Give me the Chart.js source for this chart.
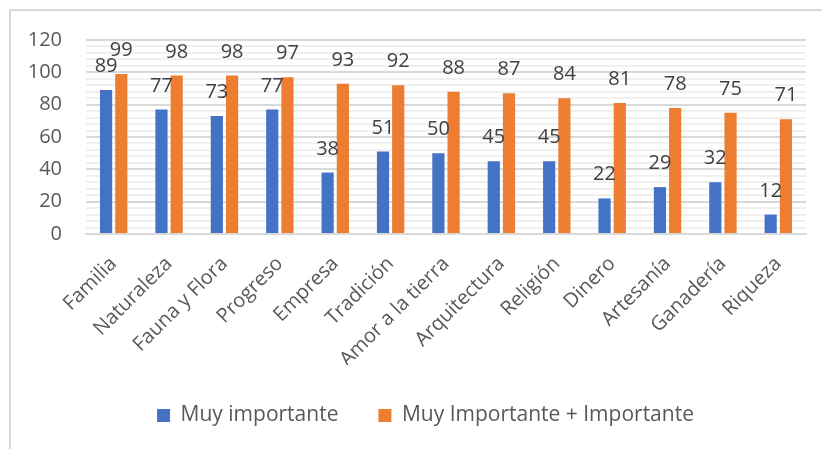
<!DOCTYPE html>
<html>
<head>
<meta charset="utf-8">
<script src="https://cdn.jsdelivr.net/npm/chart.js@4/dist/chart.umd.min.js"></script>
<style>
    html, body { margin: 0; padding: 0; background: #fff; }
    #wrap { position: relative; width: 822px; height: 449px; overflow: hidden; }
    #frame { position: absolute; left: 9px; top: 9px; width: 840px; height: 470px; border: 2px solid #d9d9d9; box-sizing: border-box; }
    #chart { position: absolute; left: 0; top: 0; }
</style>
</head>
<body>
<div id="wrap">
    <div id="frame"></div>
    <canvas id="chart" width="822" height="449"></canvas>
</div>
<script>
// categories and series
const categories = ['Familia', 'Naturaleza', 'Fauna y Flora', 'Progreso', 'Empresa', 'Tradición',
    'Amor a la tierra', 'Arquitectura', 'Religión', 'Dinero', 'Artesanía', 'Ganadería', 'Riqueza'];
const muyImportante = [89, 77, 73, 77, 38, 51, 50, 45, 45, 22, 29, 32, 12];
const muyMasImportante = [99, 98, 98, 97, 93, 92, 88, 87, 84, 81, 78, 75, 71];
const seriesNames = ['Muy importante', 'Muy Importante + Importante'];
const yMax = 120;
const yMajorStep = 20;
const yMinorStep = 4;

const FONT = "'Open Sans', sans-serif";

// value labels over each bar (no datalabels plugin available)
const barLabels = {
    id: 'barLabels',
    afterDatasetsDraw(chart) {
        const ctx = chart.ctx;
        ctx.save();
        ctx.font = '20px ' + FONT;
        ctx.fillStyle = '#404040';
        ctx.textAlign = 'center';
        ctx.textBaseline = 'alphabetic';
        chart.data.datasets.forEach(function (ds, i) {
            chart.getDatasetMeta(i).data.forEach(function (bar, j) {
                ctx.fillText(String(ds.data[j]), bar.x, bar.y - 18);
            });
        });
        ctx.restore();
    }
};

// legend in the reference sits a bit right of the canvas centre
const legendShift = {
    id: 'legendShift',
    beforeDraw(chart) {
        if (chart.legend) chart.legend.left = 45;
    }
};

new Chart(document.getElementById('chart'), {
    type: 'bar',
    data: {
        labels: categories,
        datasets: [
            { label: seriesNames[0], data: muyImportante, backgroundColor: '#4472c4' },
            { label: seriesNames[1], data: muyMasImportante, backgroundColor: '#ed7d31' }
        ]
    },
    options: {
        responsive: false,
        animation: false,
        categoryPercentage: 0.55,
        barPercentage: 0.8,
        layout: { padding: { left: 0, right: 16, top: 40, bottom: 13 } },
        plugins: {
            legend: {
                position: 'bottom',
                labels: {
                    font: { family: FONT, size: 21 },
                    color: '#595959',
                    boxWidth: 13,
                    boxHeight: 13,
                    padding: 40
                }
            },
            tooltip: { enabled: false }
        },
        scales: {
            x: {
                afterFit: function (scale) { scale.height = 131; },
                grid: { display: false },
                border: { color: '#d9d9d9', width: 2 },
                ticks: {
                    font: { family: FONT, size: 20 },
                    color: '#595959',
                    maxRotation: 45,
                    minRotation: 45,
                    padding: 10
                }
            },
            y: {
                min: 0,
                max: yMax,
                afterFit: function (scale) { scale.width = 86; },
                border: { display: false },
                grid: {
                    drawTicks: false,
                    lineWidth: 2,
                    color: function (c) {
                        return c.tick && c.tick.value % yMajorStep === 0 ? '#d9d9d9' : '#f0f0f0';
                    }
                },
                ticks: {
                    stepSize: yMinorStep,
                    autoSkip: false,
                    font: { family: FONT, size: 20 },
                    color: '#595959',
                    padding: 24,
                    callback: function (v) { return v % yMajorStep === 0 ? String(v) : ''; }
                }
            }
        }
    },
    plugins: [barLabels, legendShift]
});
</script>
</body>
</html>
